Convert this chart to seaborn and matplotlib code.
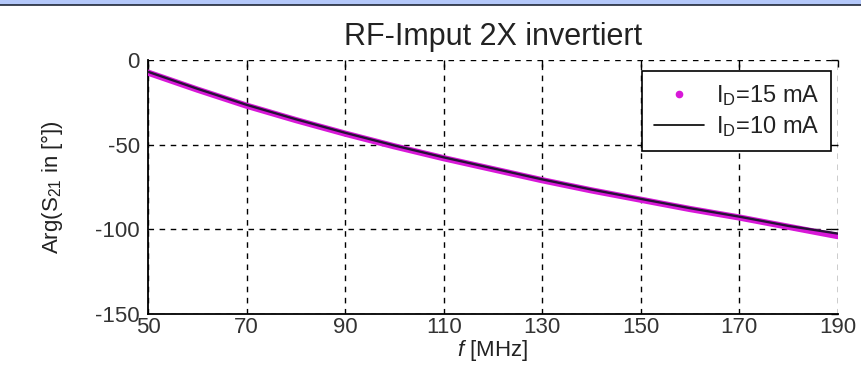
import numpy as np
import pandas as pd
import matplotlib
matplotlib.use("Agg")
import matplotlib.pyplot as plt
from matplotlib.lines import Line2D
from matplotlib.patches import Rectangle
import seaborn as sb

# frequency in MHz, phase of S21 in degrees
freq = [50, 60, 70, 80, 90, 100, 110, 120, 130, 140, 150, 160, 170, 180, 190]
arg_15mA = [-7.5, -17.5, -27, -35.5, -43.5, -51, -58, -64.5, -71, -77, -82.5, -88, -93, -98.5, -104]
arg_10mA = [-7, -17, -26.5, -35, -43, -50.5, -57.5, -64, -70.5, -76.5, -82, -87.5, -92.5, -98, -102.5]


def main():
    sb.set_style("white")
    plt.rcParams["font.family"] = ["Liberation Sans", "DejaVu Sans"]
    plt.rcParams["mathtext.fontset"] = "custom"
    plt.rcParams["mathtext.rm"] = "Liberation Sans"
    plt.rcParams["mathtext.it"] = "Liberation Sans:italic"
    plt.rcParams["mathtext.default"] = "regular"
    plt.rcParams["axes.unicode_minus"] = False

    D = pd.DataFrame({"f": freq, "15 mA": arg_15mA, "10 mA": arg_10mA})

    fig = plt.figure(figsize=(8.61, 3.77), dpi=100)
    ax = fig.add_axes([0.172, 0.167, 0.801, 0.674])

    sb.lineplot(data=D, x="f", y="15 mA", ax=ax, color="#d818d8", lw=4.5, zorder=3)
    sb.lineplot(data=D, x="f", y="10 mA", ax=ax, color="#281038", lw=1.7, zorder=4)

    ax.set_xlim(50, 190)
    ax.set_ylim(-150, 0)
    ax.set_xticks(np.arange(50, 191, 20))
    ax.set_yticks([-150, -100, -50, 0])
    ax.grid(True, color="black", linestyle=(0, (4, 4)), lw=1)
    for s in ["top", "right"]:
        ax.spines[s].set_visible(False)
    for s in ["left", "bottom"]:
        ax.spines[s].set_color("black")
        ax.spines[s].set_linewidth(1.3)
    ax.tick_params(direction="in", length=5, width=1, colors="black", labelsize=16,
                   top=True, right=True)
    ax.tick_params(axis="y", pad=6)
    ax.tick_params(axis="x", pad=2)
    for t in ax.get_xticklabels() + ax.get_yticklabels():
        t.set_color("#333333")

    ax.set_title("RF-Imput 2X invertiert", fontsize=22, pad=11, color="#222222")
    ax.set_xlabel("$\\mathit{f}$ [MHz]", fontsize=16, labelpad=0, color="#222222")
    ax.set_ylabel("Arg(S$_{21}$ in [°])", fontsize=16, labelpad=22, color="#222222")

    handles = [
        Line2D([], [], color="#d818d8", marker=".", linestyle="none", markersize=9),
        Line2D([], [], color="black", lw=1.2),
    ]
    leg = ax.legend(handles, ["I$_{D}$=15 mA", "I$_{D}$=10 mA"], loc="upper right",
                    fontsize=17, fancybox=False, framealpha=1, edgecolor="black",
                    borderaxespad=0, handlelength=2.1, handletextpad=0.5,
                    labelspacing=0.25, borderpad=0.5,
                    bbox_to_anchor=(0.99, 0.955))
    leg.get_frame().set_linewidth(1.2)
    for t in leg.get_texts():
        t.set_color("#222222")

    # window header strip at the top
    fig.add_artist(Rectangle((0, 1 - 4.5 / 377), 1, 4.5 / 377, transform=fig.transFigure,
                             facecolor="#b4c8fa", edgecolor="none"))
    fig.add_artist(Line2D([0, 1], [1 - 5 / 377, 1 - 5 / 377], transform=fig.transFigure,
                          color="#202838", lw=1.2))

    fig.savefig("out.png", dpi=100)
    plt.close()


if __name__ == "__main__":
    main()
